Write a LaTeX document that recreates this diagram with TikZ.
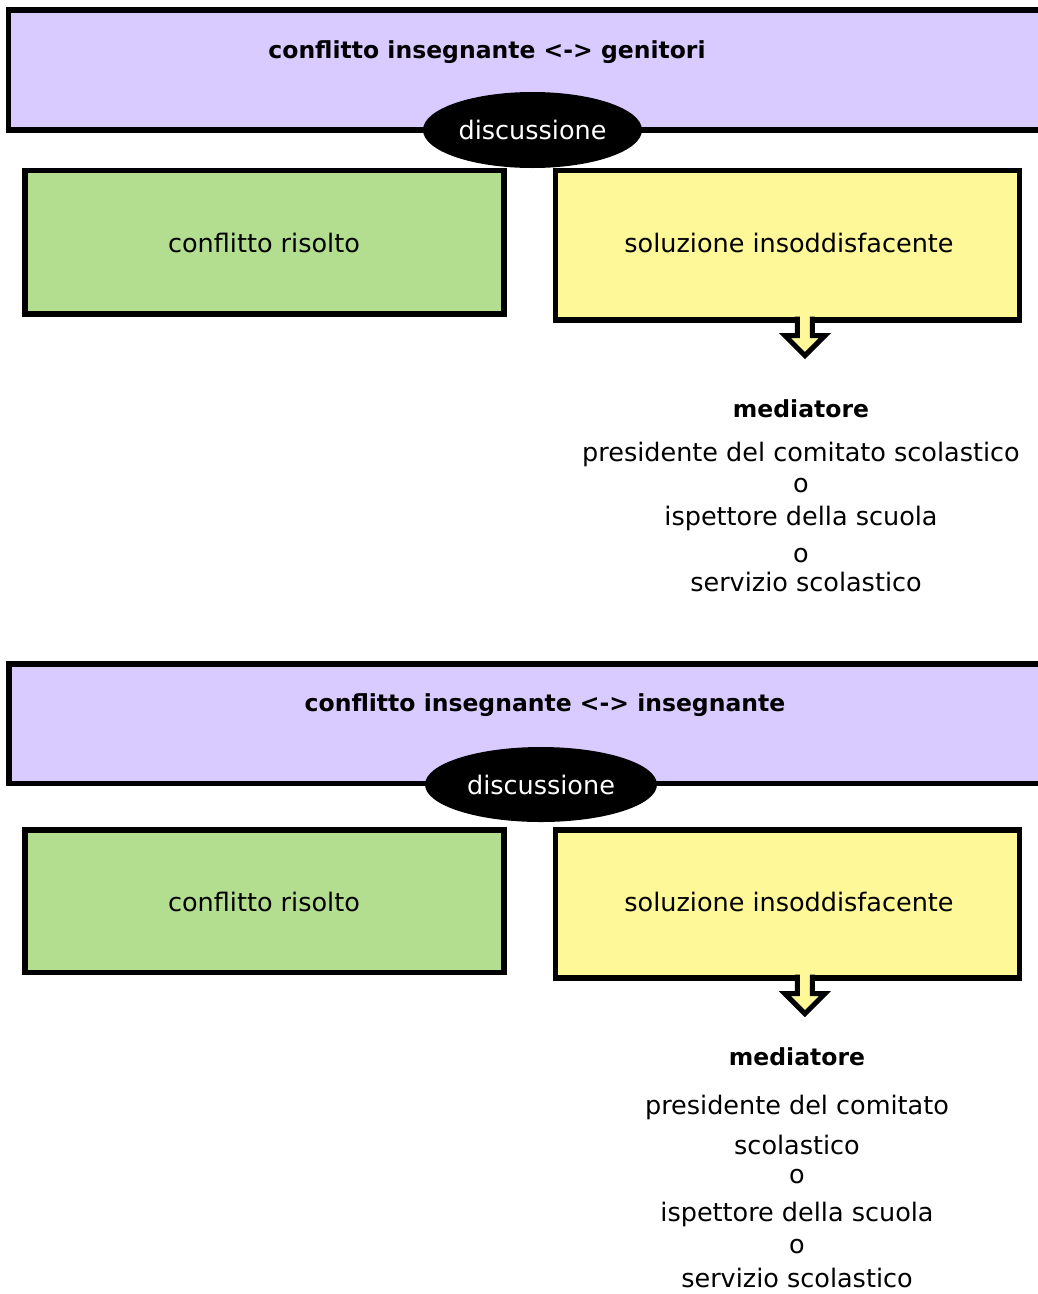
\documentclass[tikz,border=0pt]{standalone}
\usepackage{fontspec}
\setmainfont{DejaVu Sans}
\usetikzlibrary{shapes.geometric,backgrounds}
\definecolor{purp}{HTML}{D9CBFF}
\definecolor{grn}{HTML}{B3DE8F}
\definecolor{yel}{HTML}{FFF899}
\begin{document}
\begin{tikzpicture}[x=1pt,y=-1pt,
  box/.style={draw=black, line width=5.5pt, rectangle, inner sep=0pt, anchor=north west},
  disc/.style={ellipse, fill=black, text=white, inner sep=0pt, font=\fontsize{25.5}{30}\selectfont},
  lbl/.style={font=\fontsize{25.5}{30}\selectfont, inner sep=0pt},
  ttl/.style={font=\fontsize{23.5}{28}\selectfont\bfseries, inner sep=0pt},
  conn/.style={line width=9pt, black},
  arrowsty/.style={draw=black, fill=yel, line width=5pt, line join=miter}]
\useasboundingbox (0,0) rectangle (1037,1294);
\fill[white] (0,0) rectangle (1037,1294);

% ---------- block 1 ----------
\node[box, fill=purp, minimum width=1060pt, minimum height=120pt] (p1) at (5.5,7.3) {};
\node[ttl] (t1) at (487,52) {conflitto insegnante <-> genitori};
\node[box, fill=grn, minimum width=479pt, minimum height=143.5pt] (g1) at (22,167.7) {};
\node[lbl] at (264,243) {conflitto risolto};
\node[box, fill=yel, minimum width=464pt, minimum height=149.3pt] (y1) at (552.7,167.7) {};
\node[lbl] (ys1) at (789,243) {soluzione insoddisfacente};
\node[disc, minimum width=219pt, minimum height=76pt] (d1) at (532.5,130) {discussione};
\begin{scope}[on background layer]
  \draw[conn] (d1.center) -- ([xshift=-40pt]g1.north east);
  \draw[conn] (d1.center) -- ([xshift=40pt]y1.north west);
\end{scope}
\coordinate (a1) at ([xshift=17.5pt]y1.south);
\draw[arrowsty] (a1) ++(-7.5,-6) -- ++(0,19) -- ++(-12.5,0) -- ++(20,20) -- ++(20,-20) -- ++(-12.5,0) -- ++(0,-19);
\node[ttl] (m1) at (801,409) {mediatore};
\node[lbl] (m1a) at (801,454) {presidente del comitato scolastico};
\node[lbl] (m1b) at (801,486) {o};
\node[lbl] (m1c) at (801,518) {ispettore della scuola};
\node[lbl] (m1d) at (801,556) {o};
\node[lbl] (m1e) at (806,582) {servizio scolastico};

% ---------- block 2 ----------
\node[box, fill=purp, minimum width=1060pt, minimum height=119.5pt] (p2) at (6,661) {};
\node[ttl] (t2) at (545,705) {conflitto insegnante <-> insegnante};
\node[box, fill=grn, minimum width=479pt, minimum height=142.2pt] (g2) at (22,827.3) {};
\node[lbl] at (264,902) {conflitto risolto};
\node[box, fill=yel, minimum width=464pt, minimum height=147.9pt] (y2) at (552.7,827.3) {};
\node[lbl] (ys2) at (789,902) {soluzione insoddisfacente};
\node[disc, minimum width=232pt, minimum height=75pt] (d2) at (541,784.5) {discussione};
\begin{scope}[on background layer]
  \draw[conn] (d2.center) -- ([xshift=-40pt]g2.north east);
  \draw[conn] (d2.center) -- ([xshift=40pt]y2.north west);
\end{scope}
\coordinate (a2) at ([xshift=17.5pt]y2.south);
\draw[arrowsty] (a2) ++(-7.5,-6) -- ++(0,19) -- ++(-12.5,0) -- ++(20,20) -- ++(20,-20) -- ++(-12.5,0) -- ++(0,-19);
\node[ttl] (m2) at (797,1057) {mediatore};
\node[lbl] (m2a) at (797,1107) {presidente del comitato};
\node[lbl] (m2a2) at (797,1145) {scolastico};
\node[lbl] (m2b) at (797,1177) {o};
\node[lbl] (m2c) at (797,1214) {ispettore della scuola};
\node[lbl] (m2d) at (797,1247) {o};
\node[lbl] (m2e) at (797,1278) {servizio scolastico};
\end{tikzpicture}
\end{document}
